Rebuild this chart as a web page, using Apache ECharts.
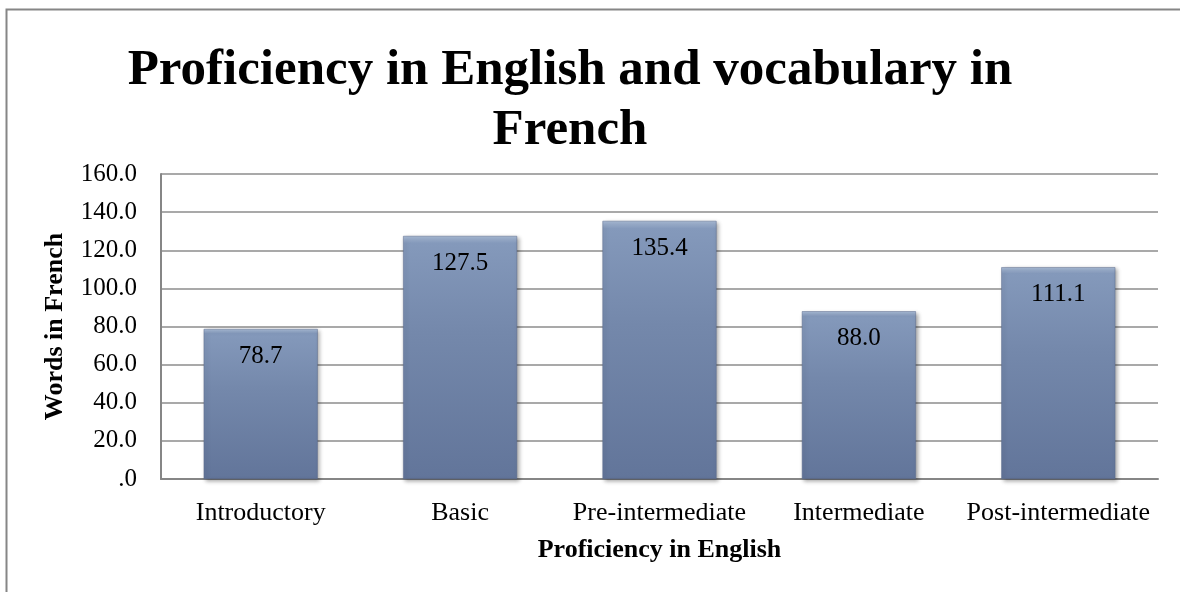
<!DOCTYPE html>
<html>
<head>
<meta charset="utf-8">
<script src="https://cdn.jsdelivr.net/npm/echarts@6/dist/echarts.min.js"></script>
<style>
  html, body { margin: 0; padding: 0; background: #fff; }
  #chart { width: 1180px; height: 592px; }
</style>
</head>
<body>
<div id="chart"></div>
<script>
// proficiency levels and mean words known in French
let levels = ['Introductory', 'Basic', 'Pre-intermediate', 'Intermediate', 'Post-intermediate']
let words = [78.7, 127.5, 135.4, 88.0, 111.1]

let font = '"Liberation Serif", "Times New Roman", serif'
let chart = echarts.init(document.getElementById('chart'))

let option = {
  backgroundColor: '#fff',
  animation: false,
  title: {
    text: 'Proficiency in English and vocabulary in\nFrench',
    left: 565,
    top: 36,
    textAlign: 'center',
    textStyle: {
      fontFamily: font,
      fontWeight: 'bold',
      fontSize: 51,
      lineHeight: 60,
      color: '#000'
    }
  },
  graphic: [
    { // outer frame, only top and left edges inside the picture
      type: 'rect',
      shape: { x: 6.5, y: 9.5, width: 1300, height: 700 },
      style: { fill: 'none', stroke: '#868686', lineWidth: 2 },
      silent: true
    }
  ],
  grid: {
    left: 161,
    right: 22,
    top: 174,
    bottom: 113
  },
  xAxis: {
    type: 'category',
    data: levels,
    name: 'Proficiency in English',
    nameLocation: 'middle',
    nameGap: 58,
    nameTextStyle: {
      fontFamily: font,
      fontWeight: 'bold',
      fontSize: 26,
      color: '#000'
    },
    axisLine: { show: true, lineStyle: { color: '#868686', width: 2 } },
    axisTick: { show: false },
    axisLabel: {
      fontFamily: font,
      fontSize: 26,
      color: '#000',
      margin: 21,
      interval: 0
    }
  },
  yAxis: {
    type: 'value',
    min: 0,
    max: 160,
    interval: 20,
    name: 'Words in French',
    nameLocation: 'middle',
    nameGap: 93,
    nameRotate: 90,
    nameTextStyle: {
      fontFamily: font,
      fontWeight: 'bold',
      fontSize: 26,
      color: '#000'
    },
    axisLine: { show: true, lineStyle: { color: '#868686', width: 2 } },
    axisTick: { show: false },
    splitLine: { show: true, lineStyle: { color: '#8c8c8c', width: 1.5 } },
    axisLabel: {
      fontFamily: font,
      fontSize: 25,
      color: '#000',
      margin: 24,
      formatter: function (v) {
        return v === 0 ? '.0' : v.toFixed(1)
      }
    }
  },
  series: [
    {
      type: 'bar',
      data: words,
      barWidth: 114,
      itemStyle: {
        color: new echarts.graphic.LinearGradient(0, 0, 0, 1, [
          { offset: 0, color: '#a9bbd6' },
          { offset: 0.03, color: '#8499bb' },
          { offset: 0.4, color: '#7488ab' },
          { offset: 1, color: '#62759a' }
        ]),
        borderColor: '#5a6b8c',
        borderWidth: 0.5,
        shadowColor: 'rgba(0,0,0,0.35)',
        shadowBlur: 4,
        shadowOffsetX: 2,
        shadowOffsetY: 2
      },
      label: {
        show: true,
        position: 'insideTop',
        distance: 15,
        fontFamily: font,
        fontSize: 25,
        color: '#000',
        formatter: function (p) {
          return p.value.toFixed(1)
        }
      }
    }
  ]
}

chart.setOption(option)
</script>
</body>
</html>
